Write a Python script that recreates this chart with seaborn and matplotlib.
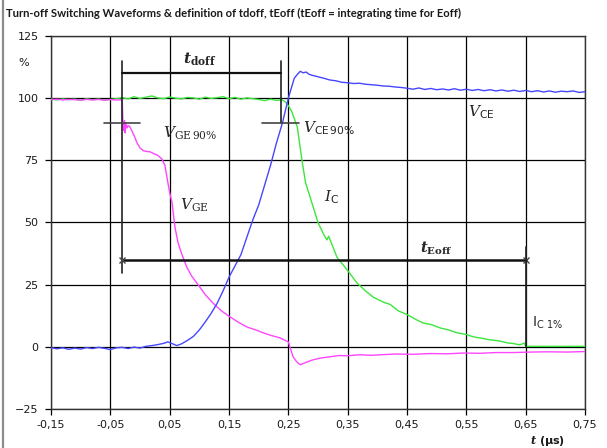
import matplotlib
matplotlib.use("Agg")
import matplotlib.pyplot as plt
import seaborn as sns
import pandas as pd
from matplotlib.patches import Rectangle

# ---- measured waveforms (t in µs, values in % of nominal) ----
t_vce = [-0.15, -0.14, -0.13, -0.12, -0.11, -0.10, -0.09, -0.08, -0.07, -0.06,
         -0.05, -0.04, -0.03, -0.02, -0.01, 0.00, 0.01, 0.02, 0.03, 0.04,
         0.047, 0.055, 0.062, 0.07, 0.08, 0.09, 0.10, 0.11, 0.12, 0.13,
         0.14, 0.15, 0.16, 0.17, 0.18, 0.19, 0.20, 0.21, 0.22, 0.23,
         0.24, 0.25, 0.255, 0.26, 0.265, 0.27, 0.275, 0.28, 0.285, 0.29,
         0.30, 0.31, 0.32, 0.33, 0.34, 0.35, 0.36, 0.37, 0.38, 0.39,
         0.40, 0.41, 0.42, 0.43, 0.44, 0.45, 0.46, 0.47, 0.48, 0.49,
         0.50, 0.51, 0.52, 0.53, 0.54, 0.55, 0.56, 0.57, 0.58, 0.59,
         0.60, 0.61, 0.62, 0.63, 0.64, 0.65, 0.66, 0.67, 0.68, 0.69,
         0.70, 0.71, 0.72, 0.73, 0.74, 0.75]
v_vce = [-0.3, -0.8, -0.4, -1.0, -0.5, -0.9, -0.3, -0.7, -0.2, -0.6,
         -1.1, -0.4, -0.2, -0.7, -0.1, -0.5, 0.2, 0.5, 0.9, 1.4,
         2.0, 1.2, 0.5, 1.2, 2.6, 4.2, 6.8, 10.0, 13.5, 17.5,
         22.5, 28.0, 32.5, 37.0, 44.0, 51.0, 57.0, 65.0, 73.0, 82.0,
         90.0, 100.0, 104.0, 108.0, 109.5, 110.8, 110.2, 110.5, 109.6, 109.2,
         108.6, 108.0, 107.3, 107.0, 106.4, 106.2, 105.9, 106.0, 105.6, 105.4,
         105.2, 104.9, 104.8, 104.5, 104.3, 104.0, 103.6, 104.1, 103.5, 103.9,
         103.4, 103.7, 103.3, 103.8, 103.2, 103.6, 103.1, 103.5, 103.0, 103.4,
         102.9, 103.3, 102.8, 103.2, 102.7, 103.1, 102.6, 103.0, 102.5, 102.9,
         102.4, 102.8, 102.6, 102.9, 102.3, 102.6]

t_ic = [-0.15, -0.14, -0.13, -0.12, -0.11, -0.10, -0.09, -0.08, -0.07, -0.06,
        -0.05, -0.04, -0.03, -0.02, -0.01, 0.00, 0.01, 0.02, 0.03, 0.04,
        0.05, 0.06, 0.07, 0.08, 0.09, 0.10, 0.11, 0.12, 0.13, 0.14,
        0.15, 0.16, 0.17, 0.18, 0.19, 0.20, 0.21, 0.22, 0.23, 0.24,
        0.245, 0.25, 0.256, 0.265, 0.273, 0.279, 0.287, 0.30, 0.31, 0.315,
        0.318, 0.332, 0.349, 0.366, 0.38, 0.393, 0.41, 0.422, 0.435, 0.45,
        0.465, 0.477, 0.49, 0.506, 0.52, 0.535, 0.55, 0.562, 0.575, 0.59,
        0.605, 0.619, 0.63, 0.64, 0.648, 0.65, 0.70, 0.75]
v_ic = [99.6, 99.3, 99.7, 99.4, 99.6, 99.2, 99.7, 99.4, 99.6, 99.3,
        99.5, 99.8, 100.2, 99.7, 100.6, 99.9, 100.4, 100.9, 100.1, 99.8,
        100.5, 100.0, 99.7, 100.3, 100.1, 99.6, 100.4, 99.9, 100.2, 100.6,
        99.8, 100.3, 99.6, 100.1, 99.8, 99.5, 99.0, 99.6, 99.1, 99.3,
        98.5, 97.0, 94.5, 88.5, 75.0, 66.0, 60.0, 50.0, 45.0, 43.0,
        44.5, 36.0, 31.0, 25.6, 22.5, 20.0, 18.0, 17.0, 14.5, 13.0,
        11.0, 9.6, 9.0, 7.6, 6.8, 5.6, 5.0, 4.0, 3.5, 2.8,
        2.4, 1.6, 1.3, 0.8, 1.5, 0.2, 0.2, 0.2]

t_vge = [-0.15, -0.14, -0.13, -0.12, -0.11, -0.10, -0.09, -0.08, -0.07, -0.06,
         -0.05, -0.04, -0.032, -0.030, -0.029, -0.028, -0.026, -0.025, -0.024, -0.022,
         -0.020, -0.017, -0.010, -0.005, 0.000, 0.005, 0.010, 0.017, 0.025, 0.030,
         0.037, 0.042, 0.047, 0.050, 0.054, 0.059, 0.064, 0.068, 0.074, 0.079,
         0.087, 0.096, 0.110, 0.123, 0.137, 0.152, 0.165, 0.180, 0.195, 0.208,
         0.222, 0.236, 0.250, 0.254, 0.258, 0.264, 0.270, 0.280, 0.292, 0.305,
         0.320, 0.335, 0.349, 0.37, 0.39, 0.405, 0.43, 0.461, 0.49, 0.518,
         0.545, 0.573, 0.60, 0.629, 0.66, 0.686, 0.72, 0.75]
v_vge = [99.4, 99.6, 99.3, 99.5, 99.4, 99.2, 99.5, 99.3, 99.5, 99.2,
         99.4, 99.3, 99.3, 99.0, 92.0, 87.0, 91.0, 86.0, 90.0, 88.0,
         89.0, 88.5, 85.0, 82.0, 80.0, 79.0, 78.6, 78.4, 77.5, 77.0,
         75.5, 73.0, 66.0, 62.0, 58.0, 48.0, 42.0, 39.0, 35.0, 32.0,
         28.5, 25.6, 21.0, 17.6, 14.5, 12.0, 10.0, 8.0, 6.8, 5.6,
         4.5, 3.6, 2.0, -1.0, -4.0, -6.0, -7.2, -6.2, -5.2, -4.5,
         -4.0, -3.5, -3.6, -3.2, -3.4, -3.2, -2.9, -3.0, -2.7, -2.8,
         -2.5, -2.6, -2.3, -2.3, -2.1, -2.0, -2.1, -1.9]

# switching instants used for the time definitions (µs)
T_GE90 = -0.03
T_CE90 = 0.238
T_IC1 = 0.65

x_ticks = [-0.15, -0.05, 0.05, 0.15, 0.25, 0.35, 0.45, 0.55, 0.65, 0.75]
x_labels = ["-0,15", "-0,05", "0,05", "0,15", "0,25", "0,35", "0,45", "0,55", "0,65", "0,75"]
y_ticks = [-25, 0, 25, 50, 75, 100, 125]

sns.set_theme(style="white")
plt.rcParams["font.family"] = ["DejaVu Sans"]
plt.rcParams["mathtext.fontset"] = "dejavuserif"

fig = plt.figure(figsize=(6.07, 4.48), dpi=100)
ax = fig.add_axes([51 / 607, 1 - 409 / 448, (585 - 51) / 607, (409 - 36) / 448])

# chart-area frame
fig.patches.append(Rectangle((3 / 607, -0.2), 1.2, 1.2 + (1 - 21 / 448),
                             transform=fig.transFigure, fill=False,
                             edgecolor="#8c8c8c", lw=1.6, zorder=0))

df_vce = pd.DataFrame({"t": t_vce, "v": v_vce})
df_ic = pd.DataFrame({"t": t_ic, "v": v_ic})
df_vge = pd.DataFrame({"t": t_vge, "v": v_vge})

sns.lineplot(data=df_vce, x="t", y="v", ax=ax, color="#4646ff", lw=1.0, sort=False, zorder=4)
sns.lineplot(data=df_ic, x="t", y="v", ax=ax, color="#3ce63c", lw=1.0, sort=False, zorder=3)
sns.lineplot(data=df_vge, x="t", y="v", ax=ax, color="#ff46ff", lw=1.0, sort=False, zorder=3)

ax.set_xlim(-0.15, 0.75)
ax.set_ylim(-25, 125)
ax.set_xticks(x_ticks)
ax.set_xticklabels(x_labels)
ax.set_yticks(y_ticks)
ax.grid(True, color="black", lw=0.9)
ax.set_axisbelow(True)
for s in ax.spines.values():
    s.set_color("#333333")
    s.set_linewidth(1.0)
ax.tick_params(axis="both", direction="out", length=4, width=0.9, color="black",
               labelsize=8, labelcolor="#1a1a1a", pad=5, left=True, bottom=True)
ax.tick_params(axis="x", pad=4)
ax.set_xlabel("")
ax.set_ylabel("")

# definition markers
mk = dict(color="#222222", lw=1.2, zorder=6)
ax.plot([T_GE90, T_GE90], [115, 29.5], **mk)
ax.plot([T_GE90 - 0.03, T_GE90 + 0.03], [90, 90], color="#444444", lw=1.2, zorder=6)
ax.plot([T_CE90, T_CE90], [115, 90], **mk)
ax.plot([T_CE90 - 0.032, T_CE90 + 0.03], [90, 90], color="#444444", lw=1.2, zorder=6)
ax.plot([T_GE90, T_CE90], [110, 110], color="#111111", lw=1.6, zorder=6)
ax.plot([T_GE90, T_IC1], [35, 35], color="#111111", lw=1.8, zorder=6,
        marker="x", markersize=5, markeredgecolor="#444444", markevery=[0, 1])
ax.plot([T_IC1, T_IC1], [40, 0], **mk)

# annotations
ax.text(0.101, 115.5, r"$\mathbfit{t}_{\mathbf{doff}}$", fontsize=11, ha="center", va="center")
ax.text(0.472, 39.5, r"$\mathbfit{t}_{\mathbf{Eoff}}$", fontsize=10.5, ha="left", va="center")
ax.text(0.039, 86, r"$V_{\mathrm{GE\,90\%}}$", fontsize=11, ha="left", va="center")
ax.text(0.0675, 57, r"$V_{\mathrm{GE}}$", fontsize=11, ha="left", va="center")
ax.text(0.275, 88, r"$V_{\mathsf{CE\,90\%}}$", fontsize=11, ha="left", va="center")
ax.text(0.31, 60, r"$I_{\mathsf{C}}$", fontsize=11, ha="left", va="center")
ax.text(0.553, 94.5, r"$V_{\mathsf{CE}}$", fontsize=11, ha="left", va="center")
ax.text(0.661, 9.7, r"I$_{\mathregular{C\ 1\%}}$", fontsize=10, ha="left", va="center",
        family="DejaVu Sans")

fig.text(24 / 607, 1 - 63 / 448, "%", fontsize=8, ha="center", va="center", color="#1a1a1a")
fig.text(548 / 607, 1 - 441 / 448, r"$\mathbfit{t}$ (µs)", fontsize=8, fontweight="bold",
         ha="center", va="center", color="#1a1a1a")
fig.text(6 / 607, 1 - 13 / 448,
         "Turn-off Switching Waveforms & definition of tdoff, tEoff (tEoff = integrating time for Eoff)",
         fontsize=8.1, fontweight="bold", ha="left", va="center", color="#1a1a1a",
         family=["Lato", "DejaVu Sans"])

fig.savefig("out.png", dpi=100)
